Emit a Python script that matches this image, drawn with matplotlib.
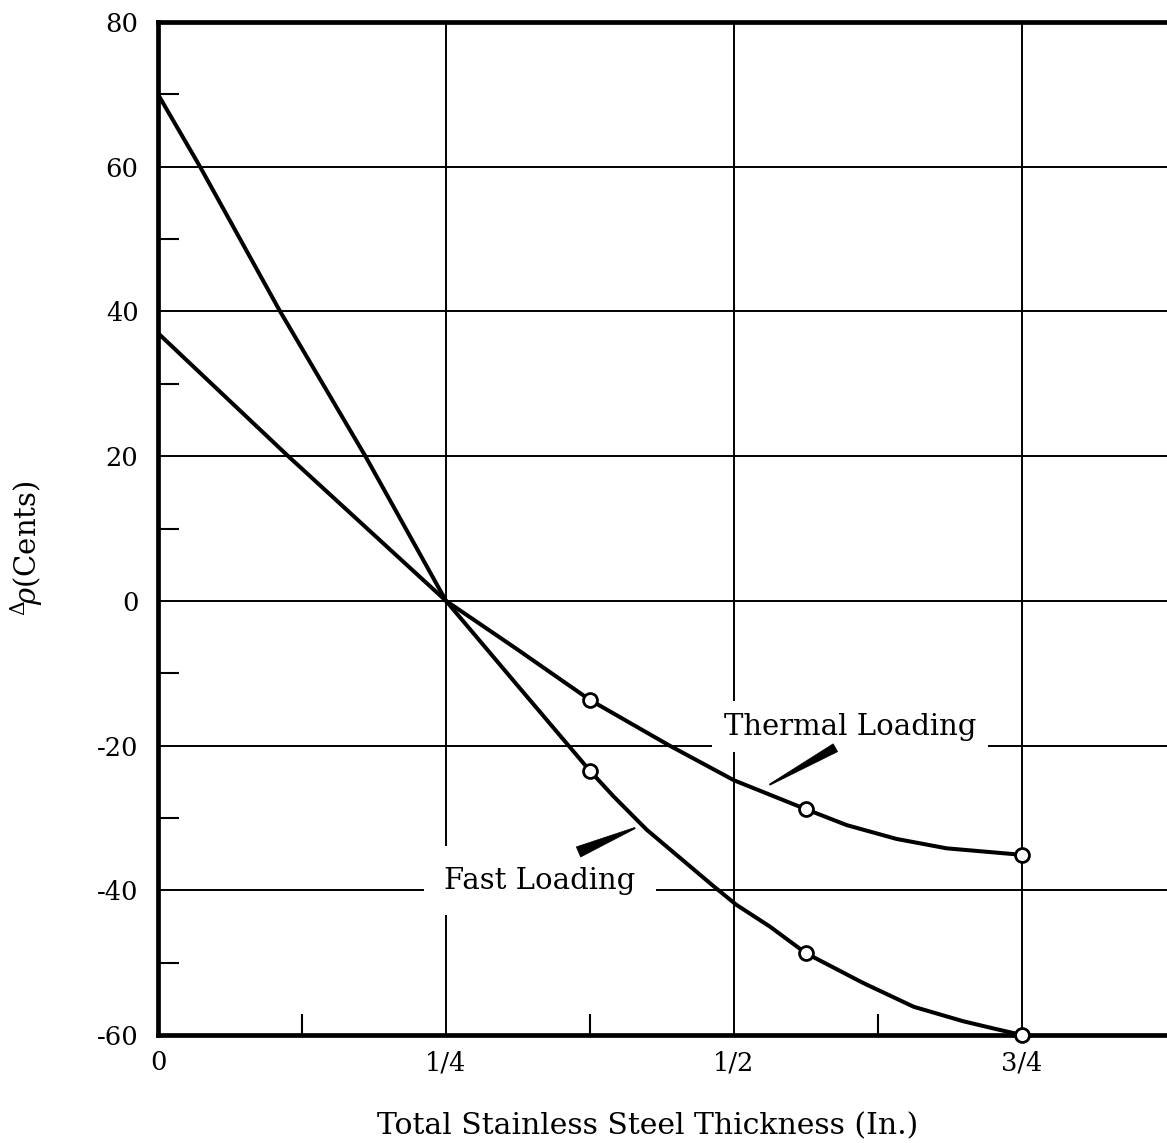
import matplotlib
matplotlib.use("Agg")
import matplotlib.pyplot as plt
import numpy as np
from matplotlib.patches import Polygon
from matplotlib.transforms import IdentityTransform

# ---- data ----
fast_x = [0.0, 0.0365, 0.106, 0.18, 0.25, 0.31, 0.375, 0.3953, 0.424, 0.453, 0.482, 0.502,
          0.531, 0.5625, 0.612, 0.656, 0.699, 0.728, 0.75]
fast_y = [70.0, 60.0, 40.0, 20.0, 0.0, -11.3, -23.5, -27.0, -31.6, -35.5, -39.4, -42.0,
          -45.0, -48.7, -52.8, -56.1, -58.1, -59.2, -60.0]
thermal_x = [0.0, 0.113, 0.25, 0.31, 0.375, 0.444, 0.5, 0.5625, 0.598, 0.641, 0.6845, 0.728, 0.75]
thermal_y = [37.0, 20.0, 0.0, -6.5, -13.7, -20.0, -24.8, -28.8, -31.0, -32.9, -34.2, -34.8, -35.1]
fast_pts_x = [0.375, 0.5625, 0.75]
fast_pts_y = [-23.5, -48.7, -60.0]
thermal_pts_x = [0.375, 0.5625, 0.75]
thermal_pts_y = [-13.7, -28.8, -35.1]

x_major = [0.0, 0.25, 0.5, 0.75]
x_major_labels = ["0", "1/4", "1/2", "3/4"]
x_minor = [0.125, 0.375, 0.625]
y_major = [80, 60, 40, 20, 0, -20, -40, -60]
y_major_labels = ["80", "60", "40", "20", "0", "-20", "-40", "-60"]
y_minor = [70, 50, 30, 10, -10, -30, -50]

plt.rcParams["font.family"] = ["DejaVu Serif"]
plt.rcParams["mathtext.fontset"] = "dejavuserif"

W, H = 1167, 1143
fig = plt.figure(figsize=(W / 100, H / 100), dpi=100)
left, right, top, bottom = 158, 1167, 22, 1035
ax = fig.add_axes([left / W, 1 - bottom / H, (right - left) / W, (bottom - top) / H])
ax.set_xlim(0, (right - left) / 1152.0)
ax.set_ylim(-60, 80)

# grid
for yv in y_major[1:-1]:
    ax.axhline(yv, color="black", lw=1.4, zorder=1)
for xv in x_major[1:]:
    ax.axvline(xv, color="black", lw=1.4, zorder=1)

# spines
for s in ["left", "bottom", "top"]:
    ax.spines[s].set_linewidth(3.4)
ax.spines["right"].set_visible(False)

ax.set_xticks(x_major)
ax.set_xticklabels(x_major_labels)
ax.set_xticks(x_minor, minor=True)
ax.set_yticks(y_major)
ax.set_yticklabels(y_major_labels)
ax.set_yticks(y_minor, minor=True)
ax.tick_params(axis="both", which="major", direction="in", length=0, labelsize=18.5)
ax.tick_params(axis="x", which="major", pad=11)
ax.tick_params(axis="y", which="major", pad=14)
ax.tick_params(axis="both", which="minor", direction="in", length=15, width=1.5)
ax.tick_params(top=False, right=False, which="both")

# curves
ax.plot(fast_x, fast_y, color="black", lw=2.9, zorder=4, solid_capstyle="round",
        solid_joinstyle="round")
ax.plot(thermal_x, thermal_y, color="black", lw=2.9, zorder=4, solid_capstyle="round",
        solid_joinstyle="round")
ax.plot(fast_pts_x, fast_pts_y, "o", ms=10, mfc="white", mec="black", mew=2.0, zorder=5, clip_on=False)
ax.plot(thermal_pts_x, thermal_pts_y, "o", ms=10, mfc="white", mec="black", mew=2.0, zorder=5, clip_on=False)

# labels with white boxes
ax.text(0.6007, -17.4, "Thermal Loading", fontsize=21, ha="center", va="center", zorder=3,
        bbox=dict(boxstyle="square,pad=0.4", fc="white", ec="none"))
ax.text(0.3316, -38.7, "Fast Loading", fontsize=21, ha="center", va="center", zorder=3,
        bbox=dict(boxstyle="square,pad=0.7", fc="white", ec="none"))

# wedge pointers (tip -> thick end), in data coords
def wedge(tip, base, half_w):
    p0 = ax.transData.transform(tip)
    p1 = ax.transData.transform(base)
    d = p1 - p0
    n = np.array([-d[1], d[0]]) / np.hypot(*d)
    poly = np.array([p0 + n * 0.6, p1 + n * half_w, p1 - n * half_w, p0 - n * 0.6])
    fig.patches.append(Polygon(poly, closed=True, fc="black", ec="black", lw=0.5,
                               transform=IdentityTransform(), figure=fig))

wedge((0.531, -25.4), (0.588, -20.3), 4.5)
wedge((0.414, -31.4), (0.365, -34.7), 5.5)

# axis labels
fig.text(27 / W, 1 - 548 / H, r"$^{\Delta}\!\rho$(Cents)", rotation=90, fontsize=21,
         ha="center", va="center")
fig.text(648 / W, 1 - 1126 / H, "Total Stainless Steel Thickness (In.)", fontsize=21.5,
         ha="center", va="center")

fig.savefig("out.png", dpi=100)
